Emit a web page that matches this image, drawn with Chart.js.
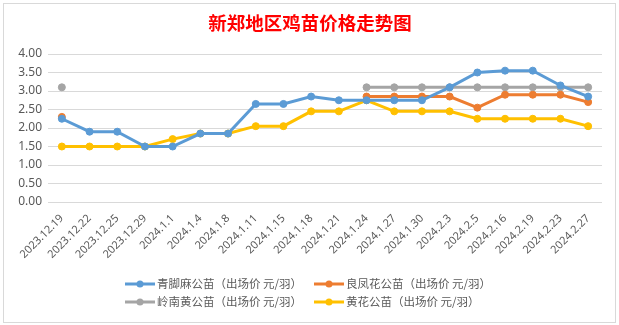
<!DOCTYPE html>
<html><head><meta charset="utf-8">
<script src="https://cdn.jsdelivr.net/npm/chart.js@4"></script>
<style>html,body{margin:0;padding:0;background:#fff;overflow:hidden}</style>
</head><body><canvas id="c" width="619" height="325"></canvas>
<script>
const categories = ['2023.12.19','2023.12.22','2023.12.25','2023.12.29','2024.1.1','2024.1.4','2024.1.8','2024.1.11','2024.1.15','2024.1.18','2024.1.21','2024.1.24','2024.1.27','2024.1.30','2024.2.3','2024.2.5','2024.2.16','2024.2.19','2024.2.23','2024.2.27'];
const seriesNames = ['青脚麻公苗（出场价 元/羽）','良凤花公苗（出场价 元/羽）','岭南黄公苗（出场价 元/羽）','黄花公苗（出场价 元/羽）'];
const qingjiao  = [2.25,1.9,1.9,1.5,1.5,1.85,1.85,2.65,2.65,2.85,2.75,2.75,2.75,2.75,3.1,3.5,3.55,3.55,3.15,2.85];
const liangfeng = [2.3,null,null,null,null,null,null,null,null,null,null,2.85,2.85,2.85,2.85,2.55,2.9,2.9,2.9,2.7];
const lingnan   = [3.1,null,null,null,null,null,null,null,null,null,null,3.1,3.1,3.1,3.1,3.1,3.1,3.1,3.1,3.1];
const huanghua  = [1.5,1.5,1.5,1.5,1.7,1.85,1.85,2.05,2.05,2.45,2.45,2.75,2.45,2.45,2.45,2.25,2.25,2.25,2.25,2.05];
const yTicks = ['0.00','0.50','1.00','1.50','2.00','2.50','3.00','3.50','4.00'];
const colors = ['#5B9BD5','#ED7D31','#A5A5A5','#FFC000'];
const titleText = '新郑地区鸡苗价格走势图';

const seriesData = [qingjiao, liangfeng, lingnan, huanghua];
const datasets = seriesData.map((d, i) => ({
  label: seriesNames[i], data: d,
  borderColor: colors[i], backgroundColor: colors[i],
  pointBackgroundColor: colors[i], pointBorderColor: colors[i],
  borderWidth: 3, pointRadius: 3.5, pointBorderWidth: 1,
  spanGaps: false, tension: 0
}));
// draw order: later datasets on top as in reference (yellow top)
const decor = {
  id: 'decor',
  beforeDraw(chart) {
    const ctx = chart.ctx;
    ctx.save();
    ctx.fillStyle = '#fff';
    ctx.fillRect(0, 0, chart.width, chart.height);
    ctx.strokeStyle = '#d9d9d9';
    ctx.lineWidth = 1;
    ctx.strokeRect(3.5, 3.5, 612, 319);
    ctx.fillStyle = '#FF0000';
    ctx.font = 'bold 18.5px "Noto Sans CJK SC"';
    ctx.textAlign = 'center';
    ctx.textBaseline = 'middle';
    ctx.fillText(titleText, 310, 23);
    ctx.restore();
  },
  afterDraw(chart) {
    const ctx = chart.ctx;
    ctx.save();
    const colX = [125, 314], rowY = [284, 302];
    chart.data.datasets.forEach((ds, i) => {
      const x = colX[i % 2], y = rowY[Math.floor(i / 2)];
      ctx.strokeStyle = ds.borderColor;
      ctx.lineWidth = 3;
      ctx.beginPath(); ctx.moveTo(x, y); ctx.lineTo(x + 30, y); ctx.stroke();
      ctx.fillStyle = ds.borderColor;
      ctx.beginPath(); ctx.arc(x + 15, y, 3.5, 0, Math.PI * 2); ctx.fill();
      ctx.fillStyle = '#595959';
      ctx.font = '11.5px "Noto Sans CJK SC"';
      ctx.textAlign = 'left';
      ctx.textBaseline = 'middle';
      ctx.fillText(ds.label, x + 32, y);
    });
    ctx.restore();
  }
};

new Chart(document.getElementById('c'), {
  type: 'line',
  data: { labels: categories, datasets },
  options: {
    responsive: false, animation: false,
    layout: { padding: { left: 0, top: 54, right: 17, bottom: 60 } },
    plugins: { legend: { display: false }, title: { display: false }, tooltip: { enabled: false } },
    scales: {
      x: {
        offset: true,
        grid: { display: false },
        border: { display: false },
        ticks: { autoSkip: false, minRotation: 45, maxRotation: 45, color: '#595959', font: { size: 11, family: '"Noto Sans", sans-serif' }, padding: 2 },
        afterFit(s) { s.height = 63; }
      },
      y: {
        min: 0, max: 4,
        grid: { color: '#d9d9d9', drawTicks: false },
        border: { display: false },
        ticks: { stepSize: 0.5, padding: 6, color: '#595959', font: { size: 12, family: '"Noto Sans", sans-serif' },
          callback: (v, i) => yTicks[i] },
        afterFit(s) { s.width = 48; }
      }
    }
  },
  plugins: [decor]
});
</script></body></html>
